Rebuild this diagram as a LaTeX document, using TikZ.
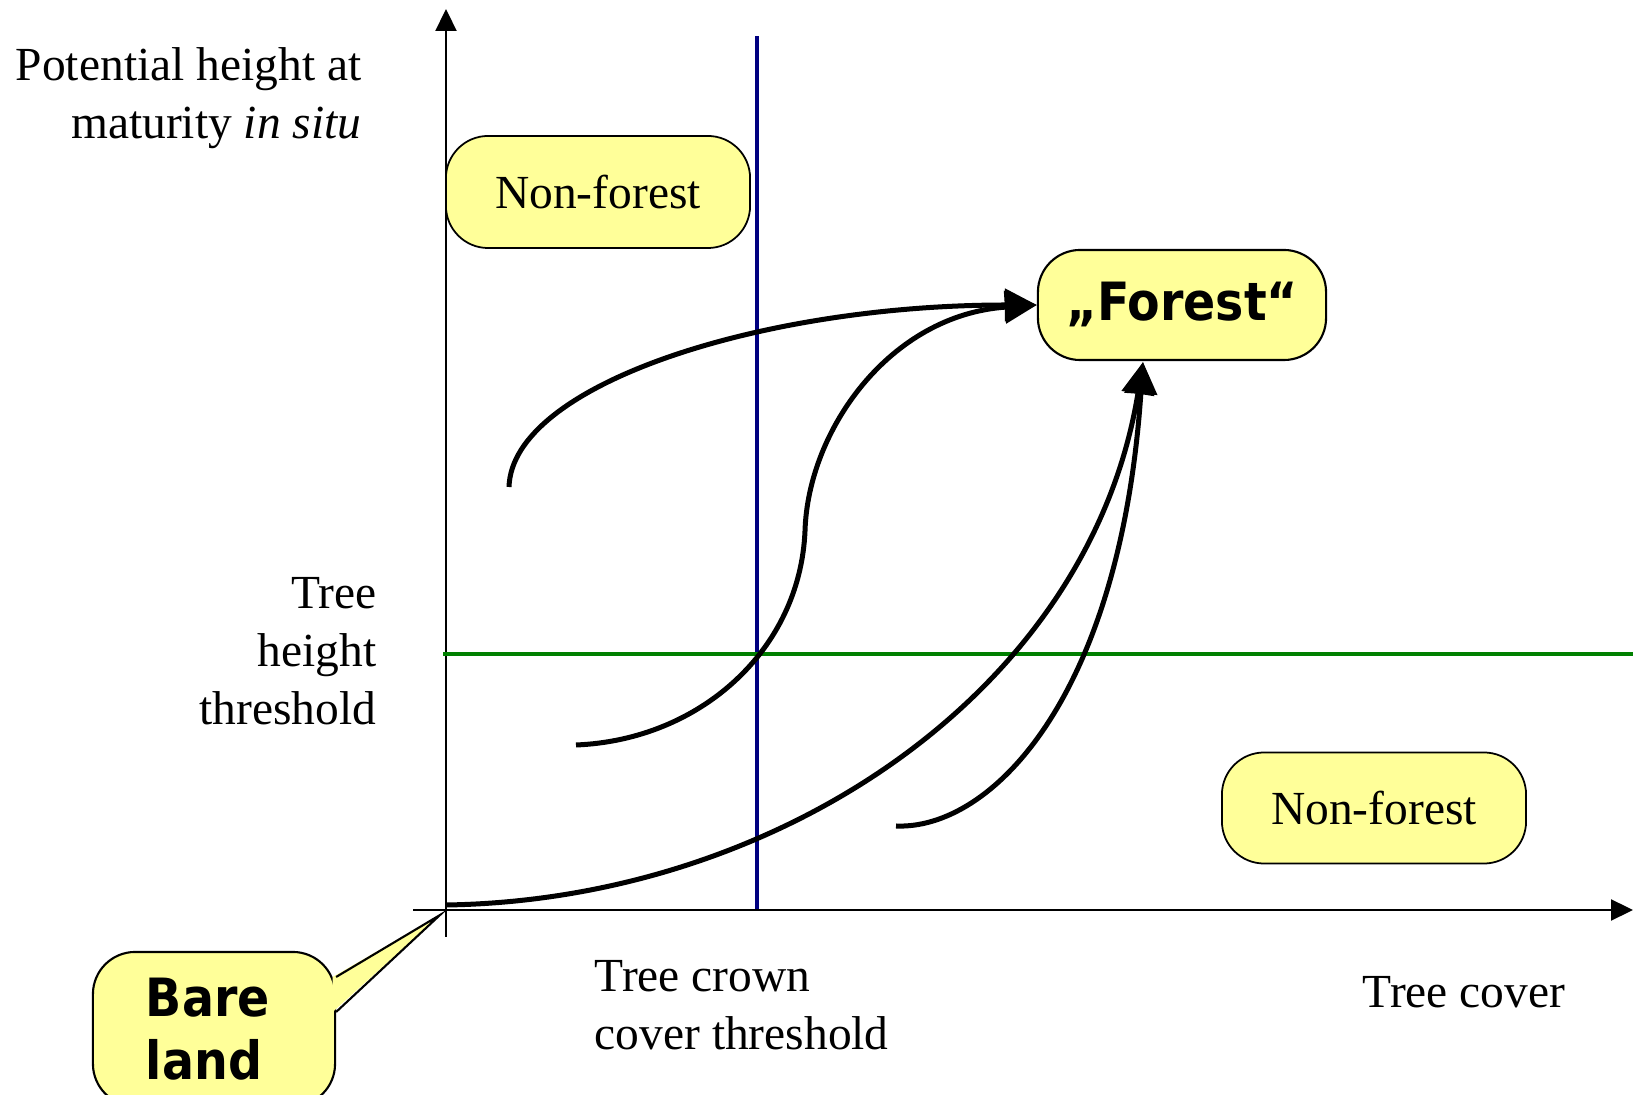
\documentclass[tikz,border=0pt]{standalone}
\usepackage{fontspec}
\setmainfont{Liberation Serif}
\newfontfamily\calloutfont{DejaVu Sans Condensed}
\usetikzlibrary{arrows.meta, positioning}
\definecolor{boxyellow}{RGB}{255, 255, 153}
\definecolor{crownblue}{RGB}{0, 0, 128}
\definecolor{heightgreen}{RGB}{0, 128, 0}
\tikzset{
  regionbox/.style={
    rectangle, rounded corners=12pt,
    draw=black, line width=0.5pt, fill=boxyellow,
    font=\fontsize{13.5}{16.5}\selectfont
  },
  forestbox/.style={
    rectangle, rounded corners=12pt,
    draw=black, line width=0.6pt, fill=boxyellow,
    font=\calloutfont\bfseries\fontsize{15}{18}\selectfont
  },
  axislabel/.style={
    inner sep=0pt, font=\fontsize{13.5}{16.5}\selectfont
  },
  arr/.style={-{Triangle[length=0.32cm, width=0.32cm]}, line width=0.05cm, color=black},
  axisarr/.style={-{Triangle[length=0.22cm, width=0.21cm]}, line width=0.022cm, color=black}
}

\begin{document}
\begin{tikzpicture}[x=0.01cm, y=-0.01cm]
  \useasboundingbox (0,0) rectangle (1633,1095);

  % ── Axes ───────────────────────────────────────────────────────
  \coordinate (origin) at (446,910);
  \coordinate (ybot)   at (446,937);
  \coordinate (ytop)   at (446,9);
  \coordinate (xleft)  at (413,910);
  \coordinate (xright) at (1633,910);
  \draw[axisarr] (ybot) -- (ytop);
  \draw[axisarr] (xleft) -- (xright);

  % ── Thresholds ─────────────────────────────────────────────────
  \coordinate (crowntop) at (757,36);
  \coordinate (crownbot) at (757,909);
  \draw[crownblue, line width=0.038cm] (crownbot) -- (crowntop);
  \coordinate (hleft)  at (443,654);
  \coordinate (hright) at (1633,654);
  \draw[heightgreen, line width=0.048cm] (hleft) -- (hright);

  % ── Axis labels (base = last line) ─────────────────────────────
  \node[axislabel, align=right, anchor=base east] (ylabel) at (362,139)
    {Potential height at\\maturity \textit{in situ}};
  \node[axislabel, align=right, anchor=base east] (heightlabel) at (377,725)
    {Tree\\height\\threshold};
  \node[axislabel, align=left, anchor=base west] (crownlabel) at (594,1050)
    {Tree crown\\cover threshold};
  \node[axislabel, anchor=base west] (xlabel) at (1362,1008) {Tree cover};

  % ── Regions ────────────────────────────────────────────────────
  \node[regionbox, minimum width=3.04cm, minimum height=1.12cm]
    (nonforesttop) at (598,192) {Non-forest};
  \node[regionbox, minimum width=3.04cm, minimum height=1.11cm]
    (nonforestbot) at (1374,808) {Non-forest};
  \node[forestbox, minimum width=2.88cm, minimum height=1.1cm]
    (forest) at (1182,305) {„Forest“};

  % ── Bare land callout ──────────────────────────────────────────
  \node[forestbox, align=left, text width=1.36cm,
        minimum width=2.42cm, minimum height=1.54cm]
    (bare) at (214,1029) {Bare\\land};
  \coordinate (baretip) at (440,915);
  \fill[boxyellow] ([xshift=-1pt, yshift=0.52cm]bare.east) -- (baretip)
    -- ([xshift=-1pt, yshift=0.17cm]bare.east) -- cycle;
  \draw[line width=0.6pt] ([yshift=0.52cm]bare.east) -- (baretip)
    -- ([yshift=0.17cm]bare.east);

  % ── Paths to forest ────────────────────────────────────────────
  \coordinate (startA) at (509,487);
  \coordinate (startB) at (576,745);
  \coordinate (bendB)  at (805,531);
  \coordinate (startC) at (446,905);
  \coordinate (startD) at (896,826);
  \coordinate (foresttip) at (1143,362);

  % from high, sparse cover
  \draw[arr] (startA) .. controls (512,385) and (760,305) .. (forest.west);
  % S-shaped growth through both thresholds
  \draw[arr] (startB) .. controls (700,740) and (800,650) .. (bendB)
    .. controls (808,430) and (890,315) .. (forest.west);
  % from bare land
  \draw[arr] (startC) .. controls (780,900) and (1090,690) .. (foresttip);
  % from low, dense cover
  \draw[arr] (startD) .. controls (990,830) and (1120,700) .. (foresttip);

\end{tikzpicture}
\end{document}
